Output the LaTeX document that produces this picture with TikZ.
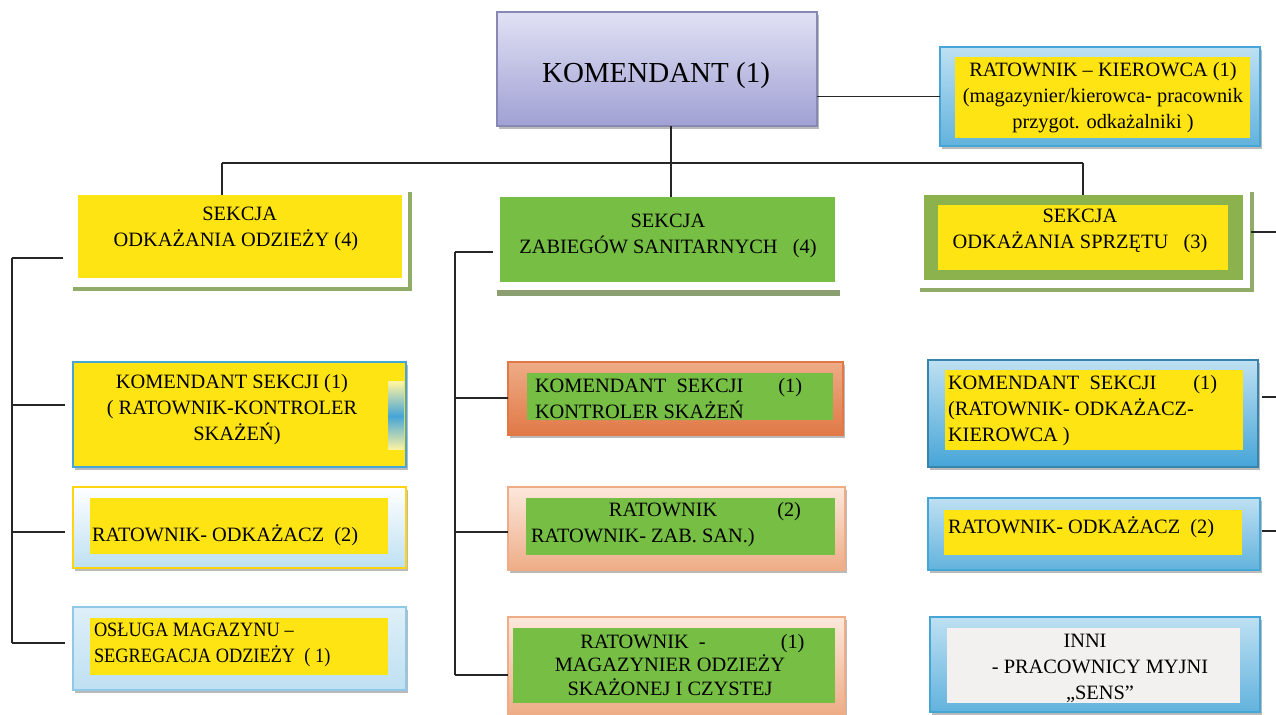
\documentclass[tikz,border=0pt]{standalone}
\usepackage{fontspec}
\setmainfont{Liberation Serif}
\newfontfamily\narrowserif[FakeStretch=0.9]{Liberation Serif}
\usetikzlibrary{fit,shadows}
\definecolor{yel}{RGB}{255,228,20}
\definecolor{grn}{RGB}{118,190,68}
\definecolor{grnB}{RGB}{140,178,78}
\definecolor{grnL}{RGB}{145,172,105}
\definecolor{blu}{RGB}{70,165,215}
\definecolor{bluL}{RGB}{190,224,242}
\definecolor{org}{RGB}{225,120,70}
\definecolor{orgL}{RGB}{238,172,135}
\definecolor{pch}{RGB}{252,232,220}
\definecolor{lav}{RGB}{225,225,245}
\definecolor{lavD}{RGB}{160,160,212}
\definecolor{gry}{RGB}{243,241,239}
\begin{document}
\begin{tikzpicture}[x=0.02cm,y=-0.02cm,
  every node/.style={inner sep=0pt,outer sep=0pt},
  txt/.style={font=\fontsize{11.6}{14.8}\selectfont,align=center,text=black},
  ln/.style={line width=1pt,black!85},
  shd/.style={drop shadow={shadow xshift=1.2pt,shadow yshift=-1.5pt,opacity=0.45,fill=black!60}},
]
\useasboundingbox (0,0) rectangle (1276,715);

% ---- top
\node[fit={(497,12) (817,126)},top color=lav,bottom color=lavD,draw=lavD!85!black,line width=0.6pt,shd] (kom) {};
\node[font=\fontsize{16.5}{20}\selectfont] (komt) at (656,76) {KOMENDANT (1)};

\node[fit={(940,47) (1260,146)},top color=bluL,bottom color=blu!85,draw=blu,line width=0.6pt,shd] (rk) {};
\node[fit={(955,57) (1250,138)},fill=yel] (rkin) {};
\node[txt] (rkt) at (1103,98) {RATOWNIK – KIEROWCA (1)\\(magazynier/kierowca- pracownik\\przygot. odkażalniki )};

\draw[ln] (kom.east |- rk.west) -- (rk.west);

% ---- sections
\draw[grnL,line width=2pt] (73,289) -- (410,289) -- (410,192);
\node[fit={(78,195) (402,278)},fill=yel] (s1) {};
\node[txt] (s1t) at (236,229) {\hspace*{0.15cm}SEKCJA\\ODKAŻANIA ODZIEŻY (4)};

\draw[grnL!70!gray,line width=3pt] (497,293) -- (840,293);
\node[fit={(500,197) (835,282)},fill=grn] (s2) {};
\node[txt] (s2t) at (668,236) {SEKCJA\\ZABIEGÓW SANITARNYCH~~~(4)};

\draw[grnL,line width=2pt] (920,290) -- (1252,290) -- (1252,192);
\node[fit={(924,195) (1243,280)},fill=grnB] (s3) {};
\node[fit={(938,205) (1228,270)},fill=yel] (s3in) {};
\node[txt] (s3t) at (1080,231) {SEKCJA\\ODKAŻANIA SPRZĘTU~~~(3)};

% ---- bus
\coordinate (b1) at (222,163);
\coordinate (b2) at (671,163);
\coordinate (b3) at (1083,163);
\draw[ln] (b2 |- kom.south) -- (b2);
\draw[ln] (b1) -- (b3);
\draw[ln] (b1) -- (b1 |- s1.north);
\draw[ln] (b2) -- (b2 |- s2.north);
\draw[ln] (b3) -- (b3 |- s3.north);

% ---- left column
\node[fit={(73,362) (406,467)},fill=yel,draw=blu,line width=1pt,shd] (k1) {};
\fill[top color=yel!40!white,bottom color=yel!40!white,middle color=blu] (388,382) rectangle (404,450);
\node[txt] (k1t) at (232,410) {KOMENDANT SEKCJI (1)\\( RATOWNIK-KONTROLER\\\hspace*{0.2cm}SKAŻEŃ)};

\node[fit={(73,487) (406,568)},top color=white,bottom color=bluL,draw=yel!85!orange,line width=0.8pt,shd] (o1) {};
\node[fit={(90,498) (388,554)},fill=yel] (o1in) {};
\node[txt,anchor=west] (o1t) at (92,535) {RATOWNIK- ODKAŻACZ~~(2)};

\node[fit={(73,607) (406,690)},top color=bluL!50!white,bottom color=bluL,draw=blu!60,line width=0.8pt,shd] (m1) {};
\node[fit={(90,618) (388,675)},fill=yel] (m1in) {};
\node[txt,align=left,anchor=west,font=\narrowserif\fontsize{11.6}{14.5}\selectfont] (m1t) at (94,645) {OSŁUGA MAGAZYNU –\\SEGREGACJA ODZIEŻY~~( 1)};

\coordinate (L0) at (12,258);
\coordinate (L1) at (12,405);
\coordinate (L2) at (12,532);
\coordinate (L3) at (12,643);
\draw[ln] (L0) -- (L3);
\draw[ln,shorten >=0.3cm] (L0) -- (L0 -| s1.west);
\draw[ln,shorten >=0.16cm] (L1) -- (L1 -| k1.west);
\draw[ln,shorten >=0.16cm] (L2) -- (L2 -| o1.west);
\draw[ln,shorten >=0.16cm] (L3) -- (L3 -| m1.west);

% ---- middle column
\node[fit={(508,362) (843,435)},top color=orgL,bottom color=org,draw=org,line width=0.8pt,shd] (k2) {};
\node[fit={(527,373) (833,420)},fill=grn] (k2in) {};
\node[txt,align=left,anchor=west] (k2t) at (535,399) {KOMENDANT~~SEKCJI\hspace{0.7cm}(1)\\KONTROLER SKAŻEŃ};

\node[fit={(508,487) (845,570)},top color=pch,bottom color=orgL,draw=orgL,line width=0.8pt,shd] (r2) {};
\node[fit={(526,498) (835,555)},fill=grn] (r2in) {};
\node[txt,align=left,anchor=west] (r2t) at (531,525) {\hspace*{1.56cm}RATOWNIK\hspace{1.2cm}(2)\\RATOWNIK- ZAB. SAN.)};

\node[fit={(508,617) (845,715)},top color=pch,bottom color=orgL,draw=orgL,line width=0.8pt,shd] (m2) {};
\node[fit={(513,628) (835,703)},fill=grn] (m2in) {};
\node[txt,font=\fontsize{11.6}{13.6}\selectfont] (m2t) at (670,665) {\hspace*{0.9cm}RATOWNIK~~-\hspace{1.5cm}(1)\\MAGAZYNIER ODZIEŻY\\SKAŻONEJ I CZYSTEJ};

\coordinate (M0) at (455,252);
\coordinate (M1) at (455,398);
\coordinate (M2) at (455,532);
\coordinate (M3) at (455,675);
\draw[ln] (M0) -- (M3);
\draw[ln,shorten >=0.14cm] (M0) -- (M0 -| s2.west);
\draw[ln] (M1) -- (M1 -| k2.west);
\draw[ln] (M2) -- (M2 -| r2.west);
\draw[ln] (M3) -- (M3 -| m2.west);

% ---- right column
\node[fit={(928,360) (1258,467)},top color=bluL,bottom color=blu,draw=blu!80!black,line width=0.8pt,shd] (k3) {};
\node[fit={(945,370) (1243,450)},fill=yel] (k3in) {};
\node[txt,align=left,anchor=west] (k3t) at (948,411) {KOMENDANT~~SEKCJI\hspace{0.74cm}(1)\\(RATOWNIK- ODKAŻACZ-\\KIEROWCA )};

\node[fit={(928,498) (1260,570)},top color=bluL,bottom color=blu!85,draw=blu,line width=0.8pt,shd] (o3) {};
\node[fit={(944,510) (1242,555)},fill=yel] (o3in) {};
\node[txt,anchor=west] (o3t) at (948,527) {RATOWNIK- ODKAŻACZ~~(2)};

\node[fit={(930,617) (1260,712)},top color=bluL,bottom color=blu!85,draw=blu,line width=0.8pt,shd] (inni) {};
\node[fit={(947,628) (1240,703)},fill=gry] (inniin) {};
\node[txt] (innit) at (1100,668) {INNI\hspace*{0.6cm}\\- PRACOWNICY MYJNI\\„SENS”};

\coordinate (R0) at (1276,232);
\coordinate (R1) at (1276,397);
\coordinate (R2) at (1276,531);
\draw[ln,shorten <=0.16cm] (R0 -| s3.east) -- (R0);
\draw[ln,shorten <=0.08cm] (R1 -| k3.east) -- (R1);
\draw[ln,shorten <=0.04cm] (R2 -| o3.east) -- (R2);
\end{tikzpicture}
\end{document}
